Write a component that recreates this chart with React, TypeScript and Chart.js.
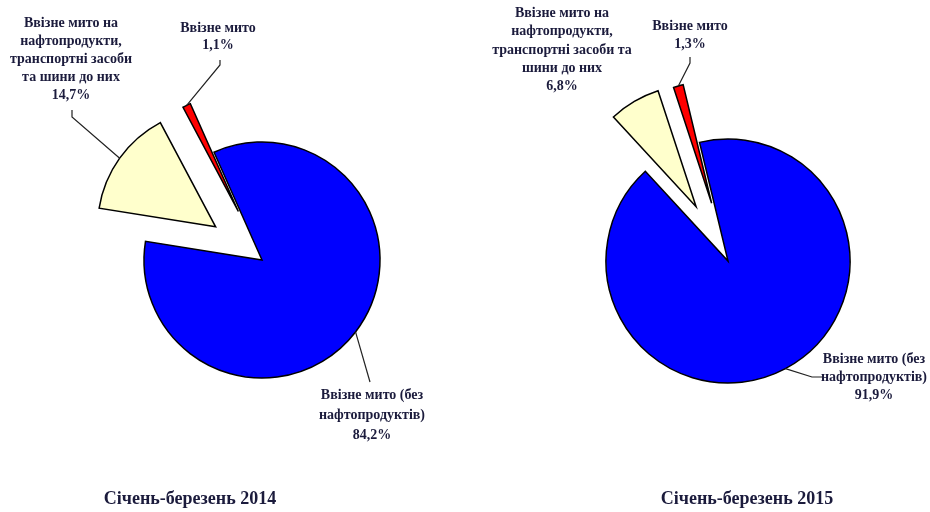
import React, { useEffect, useRef } from "react";
import { Chart, registerables } from "chart.js";
Chart.register(...registerables);

const categories = [
  "Ввізне мито (без нафтопродуктів)",
  "Ввізне мито на нафтопродукти, транспортні засоби та шини до них",
  "Ввізне мито",
];
const values2014 = [84.2, 14.7, 1.1];
const values2015 = [91.9, 6.8, 1.3];
const periods = ["Січень-березень 2014", "Січень-березень 2015"];
const labelLines2014 = [
  ["Ввізне мито (без", "нафтопродуктів)"],
  ["Ввізне мито на", "нафтопродукти,", "транспортні засоби", "та шини до них"],
  ["Ввізне мито"],
];
const labelLines2015 = [
  ["Ввізне мито (без", "нафтопродуктів)"],
  ["Ввізне мито на", "нафтопродукти,", "транспортні засоби та", "шини до них"],
  ["Ввізне мито"],
];
const sliceColors = ["#0000FF", "#FFFFCC", "#FF0000"];

const TEXT_COLOR = "#1b1b3c";
const LABEL_FONT = "bold 14px 'Liberation Serif', 'Times New Roman', serif";
const TITLE_FONT = "bold 18px 'Liberation Serif', 'Times New Roman', serif";

type LabelCfg = { x: number; y: number; lh: number; leader: number[][] | null };
type PieCfg = {
  values: number[];
  lines: string[][];
  title: string;
  rotation: number;
  radius: number;
  padding: { left: number; right: number; top: number; bottom: number };
  explode: number[];
  titlePos: number[];
  labels: LabelCfg[];
};

const pies: PieCfg[] = [
  {
    values: values2014,
    lines: labelLines2014,
    title: periods[0],
    rotation: -24,
    radius: 118,
    padding: { left: 0, right: 406, top: 8, bottom: 0 },
    explode: [0, 57, 54],
    titlePos: [190, 499],
    labels: [
      { x: 372, y: 395, lh: 20, leader: [[370, 382]] },
      { x: 71, y: 23, lh: 18.2, leader: [[72, 110], [72, 117]] },
      { x: 218, y: 28, lh: 17, leader: [[220, 60], [220, 65]] },
    ],
  },
  {
    values: values2015,
    lines: labelLines2015,
    title: periods[1],
    rotation: -13.5,
    radius: 122,
    padding: { left: 526, right: 0, top: 10, bottom: 0 },
    explode: [0, 63, 60],
    titlePos: [747, 499],
    labels: [
      { x: 874, y: 359, lh: 18, leader: [[822, 377], [812, 377]] },
      { x: 562, y: 13.5, lh: 18.3, leader: null },
      { x: 690, y: 26, lh: 18, leader: [[690, 57], [690, 63]] },
    ],
  },
];

function fmt(v: number) {
  return v.toFixed(1).replace(".", ",") + "%";
}

function PieCanvas({ cfg }: { cfg: PieCfg }) {
  const ref = useRef<HTMLCanvasElement | null>(null);
  useEffect(() => {
    if (!ref.current) return;
    const explodePlugin = {
      id: "explodeSlices",
      afterUpdate(chart: any) {
        const meta = chart.getDatasetMeta(0);
        meta.data.forEach((arc: any, i: number) => {
          const e = cfg.explode[i] || 0;
          const mid = (arc.startAngle + arc.endAngle) / 2;
          arc.x += Math.cos(mid) * e;
          arc.y += Math.sin(mid) * e;
        });
      },
    };
    const labelPlugin = {
      id: "pieLabels",
      afterDraw(chart: any) {
        const ctx = chart.ctx as CanvasRenderingContext2D;
        const meta = chart.getDatasetMeta(0);
        ctx.save();
        meta.data.forEach((arc: any, i: number) => {
          const lab = cfg.labels[i];
          const mid = (arc.startAngle + arc.endAngle) / 2;
          const ax = arc.x + Math.cos(mid) * arc.outerRadius;
          const ay = arc.y + Math.sin(mid) * arc.outerRadius;
          if (lab.leader) {
            ctx.beginPath();
            ctx.strokeStyle = "#222222";
            ctx.lineWidth = 1.2;
            ctx.moveTo(lab.leader[0][0], lab.leader[0][1]);
            for (let k = 1; k < lab.leader.length; k++) ctx.lineTo(lab.leader[k][0], lab.leader[k][1]);
            ctx.lineTo(ax, ay);
            ctx.stroke();
          }
          const lines = [...cfg.lines[i], fmt(cfg.values[i])];
          ctx.fillStyle = TEXT_COLOR;
          ctx.font = LABEL_FONT;
          ctx.textAlign = "center";
          ctx.textBaseline = "middle";
          lines.forEach((t, k) => ctx.fillText(t, lab.x, lab.y + k * lab.lh));
        });
        ctx.font = TITLE_FONT;
        ctx.fillStyle = TEXT_COLOR;
        ctx.textAlign = "center";
        ctx.textBaseline = "middle";
        ctx.fillText(cfg.title, cfg.titlePos[0], cfg.titlePos[1]);
        ctx.restore();
      },
    };
    const chart = new Chart(ref.current, {
      type: "pie",
      data: {
        labels: categories,
        datasets: [
          {
            data: cfg.values,
            backgroundColor: sliceColors,
            borderColor: "#000000",
            borderWidth: 1.5,
            borderJoinStyle: "miter",
          } as any,
        ],
      },
      options: {
        responsive: false,
        animation: false,
        events: [],
        rotation: cfg.rotation,
        radius: cfg.radius,
        layout: { padding: cfg.padding },
        plugins: { legend: { display: false }, tooltip: { enabled: false }, title: { display: false } },
      } as any,
      plugins: [explodePlugin, labelPlugin],
    });
    return () => chart.destroy();
  }, [cfg]);
  return (
    <canvas
      ref={ref}
      width={930}
      height={512}
      style={{ position: "absolute", left: 0, top: 0, width: 930, height: 512 }}
    />
  );
}

export default function App() {
  return (
    <div style={{ position: "fixed", left: 0, top: 0, width: 930, height: 512, background: "#ffffff" }}>
      {pies.map((p, i) => (
        <PieCanvas key={i} cfg={p} />
      ))}
    </div>
  );
}
